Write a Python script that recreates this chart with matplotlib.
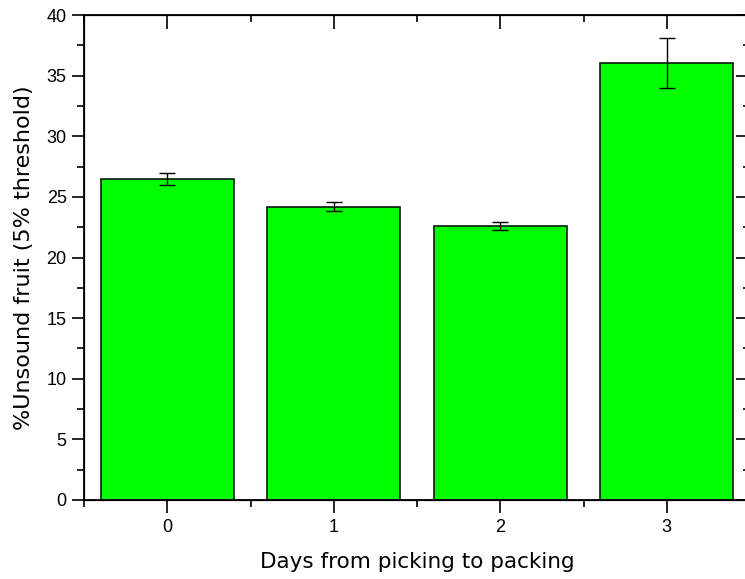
import numpy as np
import matplotlib
matplotlib.use("Agg")
import matplotlib.pyplot as plt
from matplotlib.ticker import MultipleLocator

plt.rcParams['font.family'] = ['Liberation Sans', 'DejaVu Sans']

# data
days = [0, 1, 2, 3]
unsound = [26.5, 24.2, 22.6, 36.05]
err = [0.5, 0.4, 0.35, 2.05]

fig = plt.figure(figsize=(7.45, 5.79), dpi=100)
ax = fig.add_axes([84 / 745, 1 - 500 / 579, 666 / 745, 485 / 579])

ax.bar(days, unsound, width=0.8, color='#00ff00', edgecolor='#0a1a0a', linewidth=1.2,
       yerr=err, capsize=6, error_kw=dict(ecolor='black', elinewidth=1, capthick=1))

ax.set_xlim(-0.5, 3.5)
ax.set_ylim(0, 40)
ax.set_xticks(days)
ax.xaxis.set_minor_locator(MultipleLocator(0.5))
ax.yaxis.set_major_locator(MultipleLocator(5))
ax.yaxis.set_minor_locator(MultipleLocator(2.5))

#bottom/left outward
ax.tick_params(which='both', direction='out', labelsize=13, width=1.2)
ax.tick_params(axis='x', which='major', pad=5)
ax.tick_params(which='major', length=9)
ax.tick_params(which='minor', length=5)
for spine in ax.spines.values():
	spine.set_linewidth(1.3)

#top/right ticks go inward, no labels
ax2 = ax.twinx()
ax2.set_ylim(ax.get_ylim())
ax2.yaxis.set_major_locator(MultipleLocator(5))
ax2.yaxis.set_minor_locator(MultipleLocator(2.5))
ax2.tick_params(which='both', direction='in', labelright=False, width=1.2)
ax2.tick_params(which='major', length=10)
ax2.tick_params(which='minor', length=5)
ax3 = ax.twiny()
ax3.set_xlim(ax.get_xlim())
ax3.set_xticks(days)
ax3.xaxis.set_minor_locator(MultipleLocator(0.5))
ax3.tick_params(which='both', direction='in', labeltop=False, width=1.2)
ax3.tick_params(which='major', length=10)
ax3.tick_params(which='minor', length=5)

ax.set_xlabel('Days from picking to packing', fontsize=15.5, family='DejaVu Sans', labelpad=11)
ax.set_ylabel('%Unsound fruit (5% threshold)', fontsize=16, family='DejaVu Sans', labelpad=9)

fig.savefig('out.png', dpi=100)
